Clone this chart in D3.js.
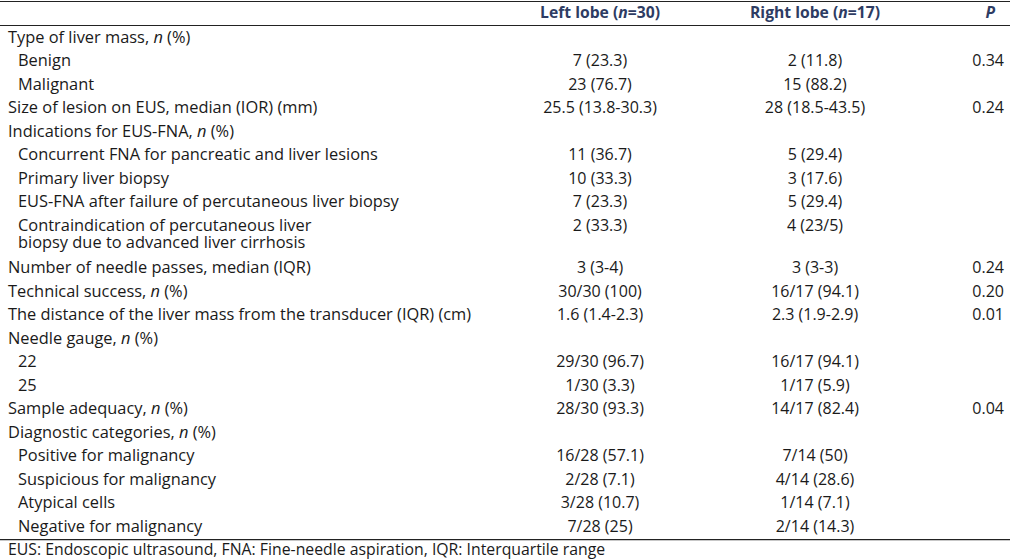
<!DOCTYPE html>
<html>
<head>
	<meta charset="utf-8">
	<script src="https://cdnjs.cloudflare.com/ajax/libs/d3/7.8.5/d3.min.js" charset="utf-8"></script>
	<style>
		body { margin: 0; background: #fff; }
		svg { font-family: 'Open Sans', sans-serif; }
		.cell { font-size: 16.4px; fill: #1a1a1a; }
		.value { font-size: 16px; fill: #1a1a1a; }
		.head { font-size: 15.7px; font-weight: bold; fill: #2e3c63; }
		.note { font-size: 15.8px; fill: #1a1a1a; }
	</style>
</head>
<body>
<div id="chart"></div>
<script>

//////////////////////////////////////////////
//////////////// The data ////////////////////
//////////////////////////////////////////////

var headers = ["", "Left lobe (n=30)", "Right lobe (n=17)", "P"];

var labels = [
	["Type of liver mass, n (%)"],
	["Benign"],
	["Malignant"],
	["Size of lesion on EUS, median (IOR) (mm)"],
	["Indications for EUS-FNA, n (%)"],
	["Concurrent FNA for pancreatic and liver lesions"],
	["Primary liver biopsy"],
	["EUS-FNA after failure of percutaneous liver biopsy"],
	["Contraindication of percutaneous liver", "biopsy due to advanced liver cirrhosis"],
	["Number of needle passes, median (IQR)"],
	["Technical success, n (%)"],
	["The distance of the liver mass from the transducer (IQR) (cm)"],
	["Needle gauge, n (%)"],
	["22"],
	["25"],
	["Sample adequacy, n (%)"],
	["Diagnostic categories, n (%)"],
	["Positive for malignancy"],
	["Suspicious for malignancy"],
	["Atypical cells"],
	["Negative for malignancy"]
];

var indented = [0,1,1,0,0,1,1,1,1,0,0,0,0,1,1,0,0,1,1,1,1];

var leftLobe = ["", "7 (23.3)", "23 (76.7)", "25.5 (13.8-30.3)", "", "11 (36.7)", "10 (33.3)",
	"7 (23.3)", "2 (33.3)", "3 (3-4)", "30/30 (100)", "1.6 (1.4-2.3)", "", "29/30 (96.7)",
	"1/30 (3.3)", "28/30 (93.3)", "", "16/28 (57.1)", "2/28 (7.1)", "3/28 (10.7)", "7/28 (25)"];

var rightLobe = ["", "2 (11.8)", "15 (88.2)", "28 (18.5-43.5)", "", "5 (29.4)", "3 (17.6)",
	"5 (29.4)", "4 (23/5)", "3 (3-3)", "16/17 (94.1)", "2.3 (1.9-2.9)", "", "16/17 (94.1)",
	"1/17 (5.9)", "14/17 (82.4)", "", "7/14 (50)", "4/14 (28.6)", "1/14 (7.1)", "2/14 (14.3)"];

var pValues = ["", "0.34", "", "0.24", "", "", "", "", "", "0.24", "0.20", "0.01", "", "",
	"", "0.04", "", "", "", "", ""];

var footnote = "EUS: Endoscopic ultrasound, FNA: Fine-needle aspiration, IQR: Interquartile range";

//////////////////////////////////////////////
//////////////// Layout //////////////////////
//////////////////////////////////////////////

var width = 1010, height = 559;

var svg = d3.select("#chart").append("svg")
	.attr("width", width)
	.attr("height", height);

//Row position in "row units": every extra wrapped line adds a bit
var extraLine = 0.81;
var rowPos = [], acc = 0;
labels.forEach(function(l) {
	rowPos.push(acc);
	acc += 1 + (l.length - 1) * extraLine;
});

var y = d3.scaleLinear().domain([0, 1]).range([37, 60.5]);
var lineGap = 17.5;

//Column anchors
var x = d3.scaleOrdinal()
	.domain(["label", "left", "right", "p"])
	.range([8, 600, 815, 1004]);
var indentX = 10;

//Write a string, setting the lonely "n" in italics
function richText(sel, str) {
	str.split(/(\bn\b)/).forEach(function(part) {
		if (!part) return;
		sel.append("tspan")
			.style("font-style", part === "n" ? "italic" : null)
			.text(part);
	});
}

//////////////////////////////////////////////
//////////////// Rules ///////////////////////
//////////////////////////////////////////////

var lastY = y(rowPos[rowPos.length - 1]) + 13;
[1, 25, lastY].forEach(function(ly) {
	svg.append("line")
		.attr("x1", 0).attr("x2", width)
		.attr("y1", ly + 0.5).attr("y2", ly + 0.5)
		.style("stroke", "#222")
		.style("stroke-width", 1.2);
});

//////////////////////////////////////////////
//////////////// Header //////////////////////
//////////////////////////////////////////////

var headCols = [
	{key: "left", anchor: "middle"},
	{key: "right", anchor: "middle"},
	{key: "p", anchor: "end"}
];

headCols.forEach(function(c, i) {
	var t = svg.append("text")
		.attr("class", "head")
		.attr("x", c.key === "p" ? x(c.key) - 9 : x(c.key))
		.attr("y", 13)
		.attr("dy", "0.35em")
		.style("text-anchor", c.anchor);
	if (headers[i + 1] === "P") t.style("font-style", "italic").text("P");
	else richText(t, headers[i + 1]);
});

//////////////////////////////////////////////
//////////////// Body ////////////////////////
//////////////////////////////////////////////

var rows = svg.selectAll(".row")
	.data(labels.map(function(l, i) {
		return {lines: l, indent: indented[i], left: leftLobe[i],
			right: rightLobe[i], p: pValues[i], pos: rowPos[i]};
	}))
	.enter().append("g")
	.attr("class", "row")
	.attr("transform", function(d) { return "translate(0," + y(d.pos) + ")"; });

//Labels: one text per row, wrapped lines as tspans
rows.append("text")
	.attr("class", "cell")
	.each(function(d) {
		var t = d3.select(this),
			lx = x("label") + (d.indent ? indentX : 0);
		d.lines.forEach(function(line, j) {
			var ln = t.append("tspan")
				.attr("x", lx)
				.attr("y", j * lineGap)
				.attr("dy", "0.35em");
			richText(ln, line);
		});
	});

rows.append("text")
	.attr("class", "value")
	.attr("x", x("left"))
	.attr("dy", "0.35em")
	.style("text-anchor", "middle")
	.text(function(d) { return d.left; });

rows.append("text")
	.attr("class", "value")
	.attr("x", x("right"))
	.attr("dy", "0.35em")
	.style("text-anchor", "middle")
	.text(function(d) { return d.right; });

rows.append("text")
	.attr("class", "value")
	.attr("x", x("p"))
	.attr("dy", "0.35em")
	.style("text-anchor", "end")
	.text(function(d) { return d.p; });

//////////////////////////////////////////////
//////////////// Footnote ////////////////////
//////////////////////////////////////////////

svg.append("text")
	.attr("class", "note")
	.attr("x", 8)
	.attr("y", lastY + 10)
	.attr("dy", "0.35em")
	.text(footnote);

</script>
</body>
</html>
